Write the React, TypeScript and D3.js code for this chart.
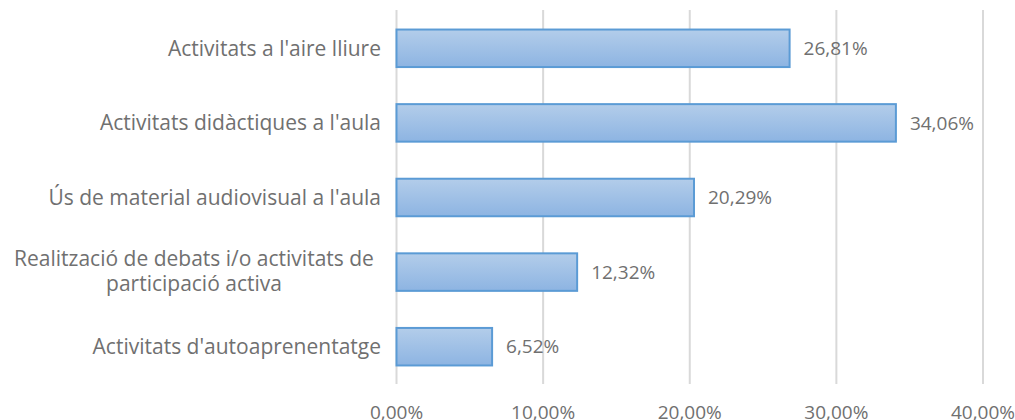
import React from "react";
import * as d3 from "d3";

const categories = [
  "Activitats a l'aire lliure",
  "Activitats didàctiques a l'aula",
  "Ús de material audiovisual a l'aula",
  "Realització de debats i/o activitats de participació activa",
  "Activitats d'autoaprenentatge",
];
const categoryLines = [
  ["Activitats a l'aire lliure"],
  ["Activitats didàctiques a l'aula"],
  ["Ús de material audiovisual a l'aula"],
  ["Realització de debats i/o activitats de", "participació activa"],
  ["Activitats d'autoaprenentatge"],
];
const values = [26.81, 34.06, 20.29, 12.32, 6.52];
const ticks = [0, 10, 20, 30, 40];

const W = 1015;
const H = 420;
const FONT = "'Open Sans', 'Noto Sans', sans-serif";
const TEXT = "#707070";
const LINE = 25;

export default function App() {
  const x = d3.scaleLinear().domain([0, 40]).range([396.5, 983]);
  const y = d3
    .scaleBand<string>()
    .domain(categories)
    .range([11, 384])
    .paddingInner(0.497)
    .paddingOuter(0.2485);
  const fmt = (v: number) => v.toFixed(2).replace(".", ",") + "%";
  return (
    <svg width={W} height={H} style={{ position: "absolute", left: 0, top: 0, background: "#fff" }}>
      <defs>
        <linearGradient id="barGrad" x1="0" y1="0" x2="0" y2="1">
          <stop offset="0" stopColor="#b3cdea" />
          <stop offset="1" stopColor="#8db4e2" />
        </linearGradient>
      </defs>
      {ticks.map((t) => (
        <line key={t} x1={x(t)} x2={x(t)} y1={10} y2={384} stroke="#d9d9d9" strokeWidth={2} />
      ))}
      {categories.map((c, i) => {
        const lines = categoryLines[i];
        const multi = lines.length > 1;
        const cy = y(c)! + y.bandwidth() / 2;
        const lx = multi ? 194 : 381;
        return (
          <g key={c}>
            <rect
              x={x(0)}
              y={y(c)!}
              width={x(values[i]) - x(0)}
              height={y.bandwidth()}
              fill="url(#barGrad)"
              stroke="#5b9bd5"
              strokeWidth={2}
            />
            <text
              x={x(values[i]) + 14}
              y={cy}
              dy="0.35em"
              fontFamily={FONT}
              fontSize={19}
              fill={TEXT}
            >
              {fmt(values[i])}
            </text>
            <text
              y={cy - ((lines.length - 1) / 2) * LINE - (multi ? 1 : 0)}
              textAnchor={multi ? "middle" : "end"}
              fontFamily={FONT}
              fontSize={21}
              fill={TEXT}
            >
              {lines.map((ln, j) => (
                <tspan key={j} x={lx} dy={j === 0 ? "0.35em" : LINE}>
                  {ln}
                </tspan>
              ))}
            </text>
          </g>
        );
      })}
      {ticks.map((t) => (
        <text key={t} x={x(t)} y={419} textAnchor="middle" fontFamily={FONT} fontSize={19} fill={TEXT}>
          {fmt(t)}
        </text>
      ))}
    </svg>
  );
}
